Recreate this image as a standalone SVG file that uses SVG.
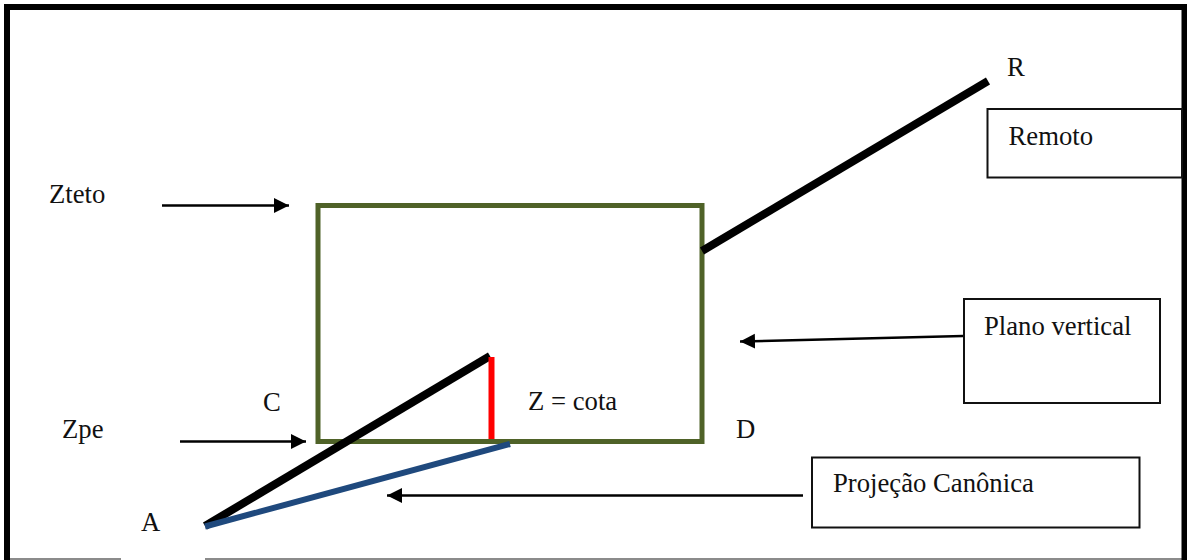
<svg xmlns="http://www.w3.org/2000/svg" width="1187" height="560" viewBox="0 0 1187 560">
<style>
text{font-family:"Liberation Serif","Times New Roman",serif;font-size:26.700px;fill:#111}
.box{fill:#fff;stroke:#111;stroke-width:2}
.arrow{stroke:#000;stroke-width:2.500;fill:none;marker-end:url(#ah)}
.thick{stroke:#000;stroke-width:8;fill:none}
</style>
<defs><marker id="ah" markerUnits="userSpaceOnUse" markerWidth="16" markerHeight="16" refX="15" refY="8" orient="auto"><path d="M0,0.500L15,8L0,15.500Z" fill="#000"/></marker></defs>
<rect width="1187" height="560" fill="#fff"/>
<g id="frame">
<path d="M10,559H121M205,559H1187" stroke="#666" stroke-width="1.500" fill="none"/>
<path d="M7,560V7H1184.500V560" fill="none" stroke="#000" stroke-width="6"/>
</g>
<g id="plano"><rect x="318" y="205.500" width="384" height="236" fill="none" stroke="#4f6228" stroke-width="5"/></g>
<g id="connectors">
<line class="thick" x1="702" y1="251" x2="988" y2="81"/>
<line class="thick" x1="205" y1="526" x2="490" y2="356"/>
<line x1="491.500" y1="357" x2="491.500" y2="439" stroke="#f00" stroke-width="6"/>
<line x1="205" y1="526.500" x2="510" y2="444" stroke="#1f497d" stroke-width="6"/>
<line class="arrow" x1="162" y1="205.500" x2="289" y2="205.500"/>
<line class="arrow" x1="180" y1="441.500" x2="306" y2="441.500"/>
<line class="arrow" x1="963" y1="336" x2="740" y2="341.500"/>
<line class="arrow" x1="803" y1="495.500" x2="387" y2="495.500"/>
</g>
<g id="remoto"><rect class="box" x="987.500" y="109" width="194.500" height="68.500"/><text x="1008.500" y="145">Remoto</text></g>
<g id="plano-vertical"><rect class="box" x="964" y="299" width="196" height="104"/><text x="984" y="335">Plano vertical</text></g>
<g id="projecao"><rect class="box" x="812" y="457.500" width="327.500" height="70"/><text x="833" y="492">Projeção Canônica</text></g>
<g id="labels">
<text x="1007" y="76">R</text>
<text x="49" y="203">Zteto</text>
<text x="62" y="438">Zpe</text>
<text x="263" y="411">C</text>
<text x="736" y="438">D</text>
<text x="141" y="531">A</text>
<text x="528" y="410">Z = cota</text>
</g>
</svg>
